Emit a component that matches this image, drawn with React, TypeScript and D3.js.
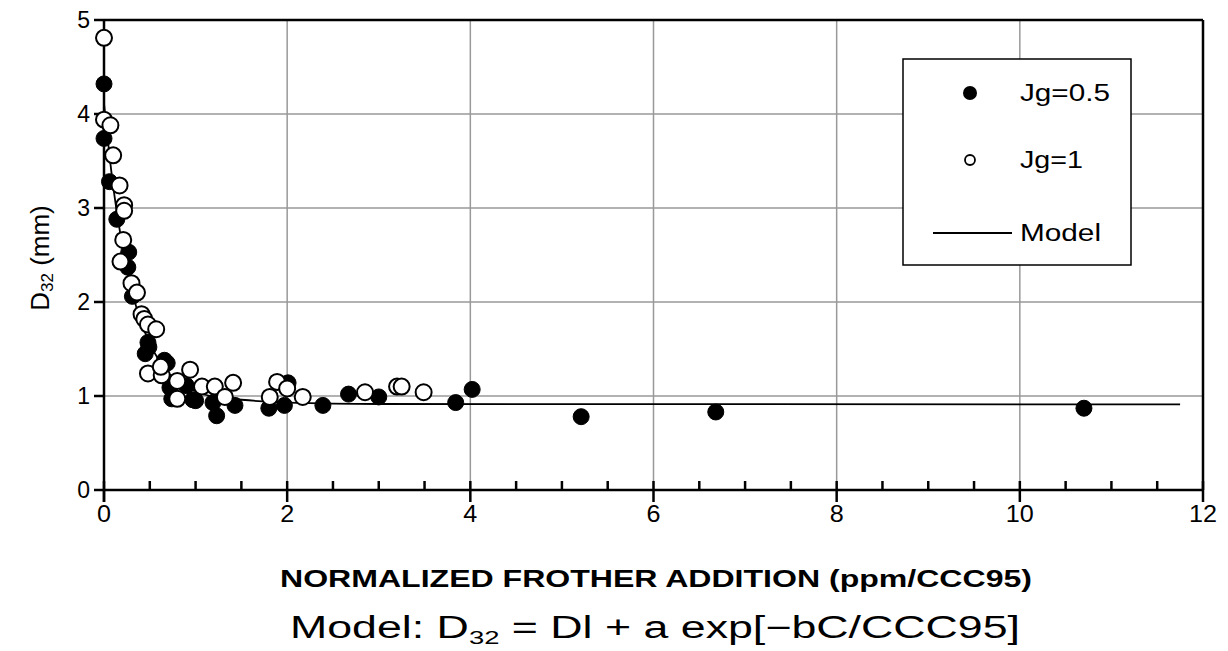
import * as d3 from "d3";
import React, { useEffect, useRef } from "react";

// Axis ticks
const xTicks = [0, 2, 4, 6, 8, 10, 12];
const yTicks = [0, 1, 2, 3, 4, 5];

// Jg = 0.5 (filled circles)
const jg05X = [0, 0, 0.06, 0.14, 0.27, 0.26, 0.31, 0.48, 0.49, 0.45, 0.66, 0.69, 0.72, 0.9, 0.74, 0.97, 1.0, 1.19, 1.23, 1.43, 1.8, 1.97, 2.01, 2.39, 2.67, 3.0, 3.84, 4.02, 5.21, 6.68, 10.7];
const jg05Y = [4.32, 3.74, 3.28, 2.88, 2.53, 2.37, 2.06, 1.57, 1.52, 1.45, 1.38, 1.35, 1.09, 1.11, 0.97, 0.96, 0.95, 0.93, 0.79, 0.9, 0.87, 0.9, 1.14, 0.9, 1.02, 0.99, 0.93, 1.07, 0.78, 0.83, 0.87];

// Jg = 1 (open circles)
const jg1X = [0, 0, 0.07, 0.1, 0.17, 0.22, 0.22, 0.21, 0.18, 0.3, 0.36, 0.41, 0.44, 0.48, 0.57, 0.48, 0.63, 0.62, 0.94, 0.8, 0.8, 1.07, 1.21, 1.41, 1.32, 1.81, 1.89, 2.0, 2.17, 2.85, 3.2, 3.25, 3.49];
const jg1Y = [4.81, 3.94, 3.88, 3.56, 3.24, 3.03, 2.97, 2.66, 2.43, 2.2, 2.1, 1.87, 1.82, 1.76, 1.71, 1.24, 1.22, 1.31, 1.28, 1.16, 0.97, 1.1, 1.1, 1.14, 0.99, 0.99, 1.15, 1.08, 0.99, 1.04, 1.1, 1.1, 1.04];

// Model curve
const modelX = [0, 0.1, 0.2, 0.3, 0.4, 0.5, 0.6, 0.7, 0.8, 1.0, 1.2, 1.5, 2.0, 3.0, 11.75];
const modelY = [4.11, 3.23, 2.6, 2.14, 1.8, 1.56, 1.38, 1.25, 1.16, 1.05, 0.99, 0.96, 0.93, 0.915, 0.91];

const legendLabels = ["Jg=0.5", "Jg=1", "Model"];

const App: React.FC = () => {
  const svgRef = useRef<SVGSVGElement>(null);

  useEffect(() => {
    if (!svgRef.current) return;
    const svg = d3.select(svgRef.current);
    svg.selectAll("*").remove();

    const font = "'Liberation Sans', Arial, Helvetica, sans-serif";
    const x = d3.scaleLinear().domain([0, 12]).range([104, 1203]);
    const y = d3.scaleLinear().domain([0, 5]).range([490, 20]);
    const r = 8;

    svg.append("rect").attr("width", 1228).attr("height", 651).attr("fill", "#fff");

    // grid
    const grid = svg.append("g").attr("stroke", "#999").attr("stroke-width", 1.5);
    xTicks.slice(1, -1).forEach((t) => {
      grid.append("line").attr("x1", x(t)).attr("x2", x(t)).attr("y1", y(0)).attr("y2", y(5));
    });
    yTicks.slice(1, -1).forEach((t) => {
      grid.append("line").attr("x1", x(0)).attr("x2", x(12)).attr("y1", y(t)).attr("y2", y(t));
    });

    // frame
    svg.append("line").attr("x1", x(0)).attr("x2", x(12)).attr("y1", y(5)).attr("y2", y(5)).attr("stroke", "#000").attr("stroke-width", 2.5);
    svg.append("line").attr("x1", x(12)).attr("x2", x(12)).attr("y1", y(5)).attr("y2", y(0)).attr("stroke", "#000").attr("stroke-width", 2.5);
    svg.append("line").attr("x1", x(0)).attr("x2", x(0)).attr("y1", y(5) - 1).attr("y2", y(0) + 12).attr("stroke", "#000").attr("stroke-width", 2.5);
    svg.append("line").attr("x1", x(0)).attr("x2", x(12)).attr("y1", y(0)).attr("y2", y(0)).attr("stroke", "#000").attr("stroke-width", 2.5);

    // x ticks: major crossing, minor inside
    const ticks = svg.append("g").attr("stroke", "#000").attr("stroke-width", 2.5);
    d3.range(0, 12.01, 0.5).forEach((t) => {
      const major = Math.abs(t % 2) < 1e-6;
      ticks.append("line").attr("x1", x(t)).attr("x2", x(t))
        .attr("y1", y(0) - 9).attr("y2", major ? y(0) + 12 : y(0));
    });
    yTicks.forEach((t) => {
      ticks.append("line").attr("x1", x(0) - 10).attr("x2", x(0)).attr("y1", y(t)).attr("y2", y(t));
    });

    // tick labels
    xTicks.forEach((t) => {
      const s = String(t);
      svg.append("text").attr("x", x(t)).attr("y", 522).attr("text-anchor", "middle")
        .attr("font-family", font).attr("font-size", 23)
        .attr("textLength", s.length * 14).attr("lengthAdjust", "spacingAndGlyphs")
        .text(s);
    });
    yTicks.forEach((t) => {
      svg.append("text").attr("x", 90).attr("y", y(t) + 8).attr("text-anchor", "end")
        .attr("font-family", font).attr("font-size", 23).text(String(t));
    });

    // model line
    const line = d3.line<number>()
      .x((d, i) => x(modelX[i]))
      .y((d) => y(d))
      .curve(d3.curveMonotoneX);
    svg.append("path").datum(modelY).attr("d", line).attr("fill", "none")
      .attr("stroke", "#000").attr("stroke-width", 1.8);

    // points
    svg.append("g").selectAll("circle").data(jg05Y).join("circle")
      .attr("cx", (d, i) => x(jg05X[i])).attr("cy", (d) => y(d)).attr("r", r)
      .attr("fill", "#000").attr("stroke", "#000").attr("stroke-width", 1);
    svg.append("g").selectAll("circle").data(jg1Y).join("circle")
      .attr("cx", (d, i) => x(jg1X[i])).attr("cy", (d) => y(d)).attr("r", r)
      .attr("fill", "#fff").attr("stroke", "#000").attr("stroke-width", 2);

    // legend
    const lg = svg.append("g");
    lg.append("rect").attr("x", 903).attr("y", 59).attr("width", 228).attr("height", 206)
      .attr("fill", "#fff").attr("stroke", "#000").attr("stroke-width", 1.5);
    lg.append("circle").attr("cx", 970).attr("cy", 93).attr("r", 7).attr("fill", "#000");
    lg.append("circle").attr("cx", 970).attr("cy", 160).attr("r", 5)
      .attr("fill", "#fff").attr("stroke", "#000").attr("stroke-width", 1.8);
    lg.append("line").attr("x1", 933).attr("x2", 1012).attr("y1", 233).attr("y2", 233)
      .attr("stroke", "#000").attr("stroke-width", 2);
    const lgWidths = [90, 63, 81];
    const lgY = [101, 168, 241];
    legendLabels.forEach((l, i) => {
      lg.append("text").attr("x", 1020).attr("y", lgY[i]).attr("font-family", font)
        .attr("font-size", 23).attr("textLength", lgWidths[i]).attr("lengthAdjust", "spacingAndGlyphs")
        .text(l);
    });

    // y axis title
    const yt = svg.append("text").attr("transform", "translate(49,258) rotate(-90)")
      .attr("text-anchor", "middle").attr("font-family", font).attr("font-size", 26);
    yt.append("tspan").text("D");
    yt.append("tspan").attr("font-size", 17).attr("dy", 4).text("32");
    yt.append("tspan").attr("dy", -4).text(" (mm)");

    // x axis title
    svg.append("text").attr("x", 280).attr("y", 587).attr("font-family", font)
      .attr("font-size", 24).attr("font-weight", "bold")
      .attr("textLength", 752).attr("lengthAdjust", "spacingAndGlyphs")
      .text("NORMALIZED FROTHER ADDITION  (ppm/CCC95)");

    // model formula
    const mt = svg.append("text").attr("x", 290).attr("y", 638).attr("font-family", font)
      .attr("font-size", 31).attr("textLength", 730).attr("lengthAdjust", "spacingAndGlyphs");
    mt.append("tspan").text("Model: D");
    mt.append("tspan").attr("font-size", 19).attr("dy", 6).text("32");
    mt.append("tspan").attr("dy", -6).text(" = Dl + a exp[\u2212bC/CCC95]");
  }, []);

  return (
    <svg
      ref={svgRef}
      width={1228}
      height={651}
      style={{ position: "absolute", left: 0, top: 0 }}
    />
  );
};

export default App;
